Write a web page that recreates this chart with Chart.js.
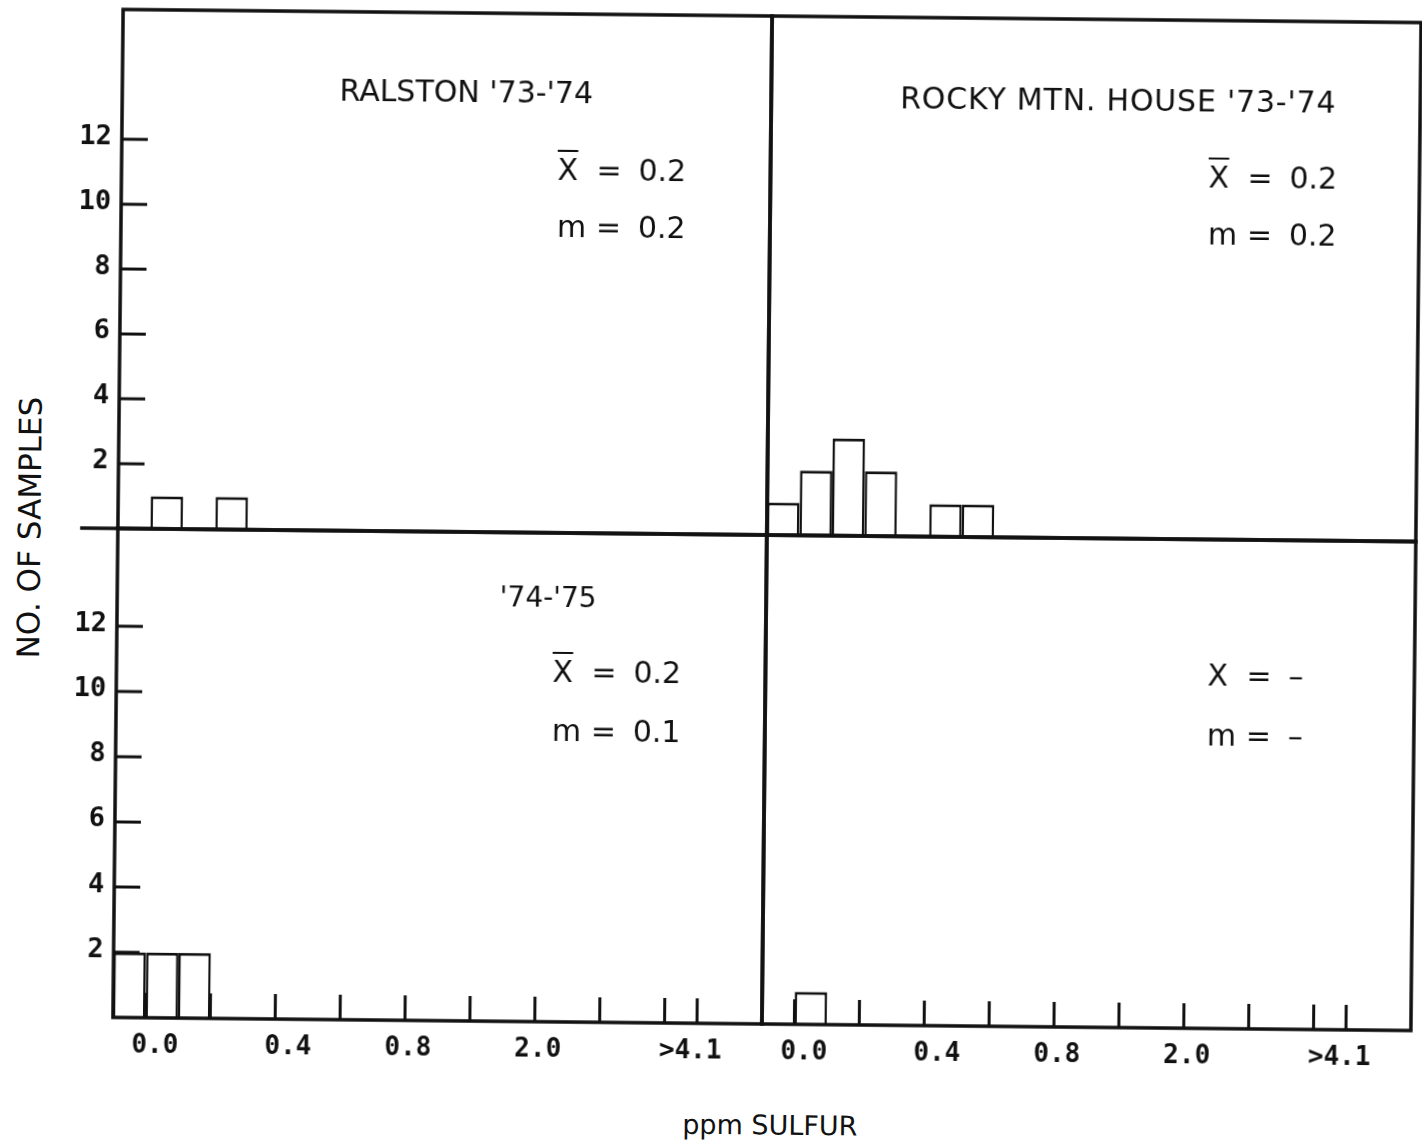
<!DOCTYPE html>
<html>
<head>
<meta charset="utf-8">
<title>ppm Sulfur – Ralston and Rocky Mtn. House</title>
<script src="https://cdn.jsdelivr.net/npm/chart.js@4.4.1/dist/chart.umd.min.js"></script>
<style>
  html, body { margin: 0; padding: 0; background: #fff; overflow: hidden; }
  #sheet {
    position: relative; width: 1422px; height: 1148px;
    transform: rotate(0.58deg); transform-origin: 767px 520px;
    font-family: "DejaVu Sans", sans-serif; color: #111;
  }
  #sheet canvas { position: absolute; }
  .t { position: absolute; white-space: nowrap; line-height: 1; transform: translate(-50%, -50%); }
  .row { position: absolute; height: 30px; margin-top: -15px; font-size: 30px; line-height: 30px; white-space: nowrap; }
  .row span { position: absolute; top: 0; }
  .row .eq { left: 39px; }
  .row .val { left: 81px; }
  .ov { text-decoration: overline; text-decoration-thickness: 2px; }
</style>
</head>
<body>
<div id="sheet">
  <canvas id="ralston7374" width="723" height="527" style="left:48px;top:12px"></canvas>
  <canvas id="rocky7374" width="657" height="527" style="left:763px;top:12px"></canvas>
  <canvas id="ralston7475" width="723" height="553" style="left:48px;top:531px"></canvas>
  <canvas id="rocky7475" width="657" height="553" style="left:763px;top:531px"></canvas>

  <div class="t" style="left:462px;top:95px;font-size:30px">RALSTON '73-'74</div>
  <div class="t" style="left:1114px;top:97px;font-size:30px;letter-spacing:0.8px">ROCKY MTN. HOUSE '73-'74</div>
  <div class="t" style="left:549px;top:600px;font-size:28px">'74-'75</div>

  <div class="row" style="left:554px;top:172px"><span class="ov">X</span><span class="eq">=</span><span class="val">0.2</span></div>
  <div class="row" style="left:554px;top:229px"><span>m</span><span class="eq">=</span><span class="val">0.2</span></div>
  <div class="row" style="left:1205px;top:173px"><span class="ov">X</span><span class="eq">=</span><span class="val">0.2</span></div>
  <div class="row" style="left:1205px;top:230px"><span>m</span><span class="eq">=</span><span class="val">0.2</span></div>
  <div class="row" style="left:554px;top:674px"><span class="ov">X</span><span class="eq">=</span><span class="val">0.2</span></div>
  <div class="row" style="left:554px;top:733px"><span>m</span><span class="eq">=</span><span class="val">0.1</span></div>
  <div class="row" style="left:1209px;top:671px"><span>X</span><span class="eq">=</span><span class="val">–</span></div>
  <div class="row" style="left:1209px;top:731px"><span>m</span><span class="eq">=</span><span class="val">–</span></div>

  <div class="t" style="left:30px;top:535px;font-size:31px;transform:translate(-50%,-50%) rotate(-90deg)">NO. OF SAMPLES</div>
  <div class="t" style="left:776px;top:1125px;font-size:27px">ppm SULFUR</div>
</div>

<script>
// Number of samples in each concentration bin (20 bins per panel)
const ralston7374 = [0, 1, 0, 1, 0, 0, 0, 0, 0, 0, 0, 0, 0, 0, 0, 0, 0, 0, 0, 0];
const rocky7374   = [1, 2, 3, 2, 0, 1, 1, 0, 0, 0, 0, 0, 0, 0, 0, 0, 0, 0, 0, 0];
const ralston7475 = [2, 2, 2, 0, 0, 0, 0, 0, 0, 0, 0, 0, 0, 0, 0, 0, 0, 0, 0, 0];
const rocky7475   = [0, 1, 0, 0, 0, 0, 0, 0, 0, 0, 0, 0, 0, 0, 0, 0, 0, 0, 0, 0];

// ppm sulfur axis: labels, where they sit along the bin scale, and bin edges that carry a tick
const xTickLabels  = ['0.0', '0.4', '0.8', '2.0', '>4.1'];
const xTickLabelAt = [1.3, 5.4, 9.1, 13.1, 17.8];
const xTickMarkAt  = [1, 3, 5, 7, 9, 11, 13, 15, 17, 18];

// sample-count axis
const yTickValues = [2, 4, 6, 8, 10, 12];

const INK = '#111';

// Panel outline plus inward-pointing tick marks, placed through the chart's scales
const panelFrame = {
  id: 'panelFrame',
  afterDatasetsDraw(chart, args, opts) {
    const { ctx, chartArea: a, scales: { x, y } } = chart;
    ctx.save();
    ctx.strokeStyle = INK;
    ctx.lineWidth = 3.5;
    ctx.lineCap = 'square';
    ctx.beginPath();
    ctx.moveTo(a.left - (opts.baselineExtend || 0), a.bottom); ctx.lineTo(a.right, a.bottom);
    ctx.moveTo(a.left, a.top); ctx.lineTo(a.right, a.top);
    ctx.moveTo(a.left, a.top); ctx.lineTo(a.left, a.bottom);
    ctx.moveTo(a.right, a.top); ctx.lineTo(a.right, a.bottom);
    ctx.stroke();
    ctx.lineCap = 'butt';
    ctx.lineWidth = 3;
    ctx.beginPath();
    (opts.yTicks || []).forEach(v => {
      const py = y.getPixelForValue(v);
      ctx.moveTo(a.left, py); ctx.lineTo(a.left + 26, py);
    });
    (opts.xTicks || []).forEach(v => {
      const px = x.getPixelForValue(v);
      ctx.moveTo(px, a.bottom); ctx.lineTo(px, a.bottom - 25);
    });
    ctx.stroke();
    ctx.restore();
  }
};

function makePanel(id, counts, cfg) {
  const points = counts.map((c, i) => ({ x: i + 0.5, y: c }));
  return new Chart(document.getElementById(id), {
    type: 'bar',
    data: {
      datasets: [{
        data: points,
        backgroundColor: '#fff',
        borderColor: INK,
        borderWidth: { top: 3, left: 2.5, right: 2.5, bottom: 0 },
        borderSkipped: false,
        inflateAmount: 0,
        barPercentage: 1,
        categoryPercentage: 1
      }]
    },
    options: {
      responsive: false,
      devicePixelRatio: 1,
      animation: false,
      events: [],
      layout: { padding: { top: 4, right: 4, bottom: cfg.showX ? 0 : 4, left: cfg.showY ? 0 : 4 } },
      plugins: {
        legend: { display: false },
        tooltip: { enabled: false },
        panelFrame: {
          yTicks: cfg.showY ? yTickValues : [],
          xTicks: cfg.showX ? xTickMarkAt : [],
          baselineExtend: cfg.baselineExtend || 0
        }
      },
      scales: {
        x: {
          type: 'linear',
          min: 0, max: 20,
          offset: false,
          display: cfg.showX,
          grid: { display: false, drawTicks: false, offset: false },
          border: { display: false },
          afterBuildTicks: s => { s.ticks = xTickLabelAt.map(v => ({ value: v })); },
          afterFit: s => { s.height = cfg.showX ? 60 : 0; s.paddingLeft = 0; s.paddingRight = 0; },
          ticks: {
            autoSkip: false, maxRotation: 0, padding: 13, color: INK,
            font: { family: 'DejaVu Sans Mono', size: 26, weight: 'bold' },
            callback: (v, i) => xTickLabels[i]
          }
        },
        y: {
          min: 0, max: cfg.yMax,
          display: cfg.showY,
          grid: { display: false, drawTicks: false },
          border: { display: false },
          afterBuildTicks: s => { s.ticks = yTickValues.map(v => ({ value: v })); },
          afterFit: s => { s.width = cfg.showY ? 70 : 0; s.paddingTop = 0; s.paddingBottom = 0; },
          ticks: {
            padding: 10, labelOffset: -2, color: INK,
            font: { family: 'DejaVu Sans Mono', size: 27, weight: 'bold' }
          }
        }
      }
    },
    plugins: [panelFrame]
  });
}

makePanel('ralston7374', ralston7374, { yMax: 16, showY: true,  showX: false, baselineExtend: 36 });
makePanel('rocky7374',   rocky7374,   { yMax: 16, showY: false, showX: false });
makePanel('ralston7475', ralston7475, { yMax: 15, showY: true,  showX: true });
makePanel('rocky7475',   rocky7475,   { yMax: 15, showY: false, showX: true });
</script>
</body>
</html>
